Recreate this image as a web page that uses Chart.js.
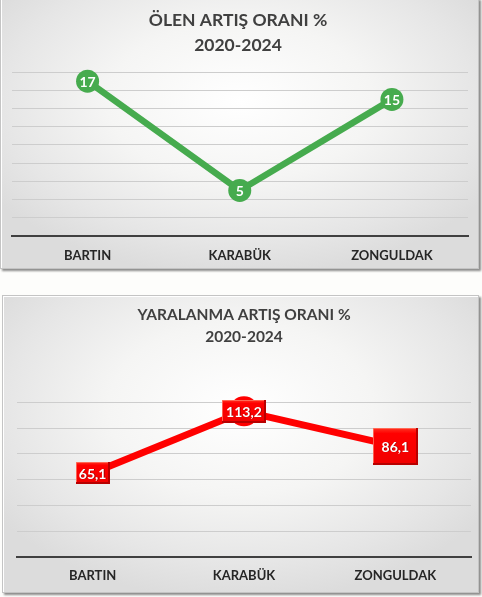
<!DOCTYPE html>
<html>
<head>
<meta charset="utf-8">
<script src="https://cdn.jsdelivr.net/npm/chart.js@4.4.1/dist/chart.umd.min.js"></script>
<style>
  html, body { margin: 0; padding: 0; background: #fdfdfb; }
  body { width: 482px; height: 597px; position: relative; overflow: hidden; }
  .panel {
    position: absolute;
    box-sizing: border-box;
    background: radial-gradient(ellipse 62% 65% at 50% 38%, #ffffff 0%, #f5f5f4 45%, #e6e6e6 80%, #dcdcdc 100%);
    border: 1px solid #c4c4c4;
    box-shadow: 2px 2px 2px rgba(0,0,0,0.45), inset 1px 1px 0 #ffffff;
  }
  #p1 { left: 0px; top: -2px; width: 479px; height: 271px; }
  #p2 { left: 2px; top: 295px; width: 477px; height: 298px; }
  canvas { position: absolute; left: 0; top: 0; }
</style>
</head>
<body>
<div class="panel" id="p1"></div>
<div class="panel" id="p2"></div>
<div id="w1" style="position:absolute;left:0;top:0;width:480px;height:276px;"><canvas id="c1"></canvas></div>
<div id="w2" style="position:absolute;left:0;top:295px;width:482px;height:302px;"><canvas id="c2"></canvas></div>
<script>
// ---- data ----
const categories = ['BARTIN', 'KARABÜK', 'ZONGULDAK'];
const olenArtisOrani = [17, 5, 15];
const yaralanmaArtisOrani = [65.1, 113.2, 86.1];
const olenTitle = ['ÖLEN ARTIŞ ORANI %', '2020-2024'];
const yaralanmaTitle = ['YARALANMA ARTIŞ ORANI %', '2020-2024'];
const olenTicks = { min: 0, max: 18, step: 2 };
const yaralanmaTicks = { min: 0, max: 120, step: 20 };

const FONT = 'Lato, "Open Sans", sans-serif';
function fmt(v) { return String(v).replace('.', ','); }

const valueLabelPlugin = {
  id: 'valueLabels',
  afterDatasetsDraw(chart, args, opts) {
    const ctx = chart.ctx;
    const meta = chart.getDatasetMeta(0);
    const data = chart.data.datasets[0].data;
    ctx.save();
    meta.data.forEach((pt, i) => {
      const x = pt.x, y = pt.y;
      const txt = fmt(data[i]);
      if (opts.box) {
        const [w, h] = opts.boxSizes[i];
        const l = Math.round(x - w / 2), t = Math.round(y - h / 2);
        const g = ctx.createLinearGradient(0, t, 0, t + h);
        g.addColorStop(0, '#ff3322');
        g.addColorStop(0.15, '#ff0000');
        g.addColorStop(1, '#f00000');
        ctx.fillStyle = g;
        ctx.fillRect(l, t, w, h);
        ctx.fillStyle = '#b80000';
        ctx.fillRect(l + w - 2, t, 2, h);
        ctx.fillRect(l, t + h - 2, w, 2);
        ctx.fillStyle = 'rgba(255,120,100,0.8)';
        ctx.fillRect(l, t, w - 2, 1);
        ctx.fillRect(l, t, 1, h - 2);
      }
      ctx.font = 'bold ' + opts.fontSize + 'px ' + FONT;
      ctx.textAlign = 'center';
      ctx.textBaseline = 'middle';
      ctx.fillStyle = 'rgba(90,0,0,0.55)';
      if (opts.box) ctx.fillText(txt, x + 1, y + 1.5);
      ctx.fillStyle = '#ffffff';
      ctx.fillText(txt, x, y + 1);
    });
    ctx.restore();
  }
};

function makeChart(canvasId, title, values, tk, cfg) {
  return new Chart(document.getElementById(canvasId), {
    type: 'line',
    data: {
      labels: categories,
      datasets: [{
        data: values,
        borderColor: cfg.color,
        backgroundColor: cfg.color,
        borderWidth: cfg.lineWidth,
        pointStyle: cfg.pointStyle,
        pointRadius: cfg.pointRadius,
        pointHoverRadius: cfg.pointRadius,
        pointBorderWidth: 0,
        pointBackgroundColor: cfg.color,
        tension: 0,
        clip: false
      }]
    },
    plugins: [valueLabelPlugin],
    options: {
      responsive: true,
      maintainAspectRatio: false,
      animation: false,
      events: [],
      layout: { padding: cfg.layoutPadding },
      plugins: {
        legend: { display: false },
        tooltip: { enabled: false },
        title: {
          display: true,
          text: title,
          color: '#404040',
          font: { family: FONT, size: cfg.titleSize, weight: 'bold', lineHeight: cfg.titleLineHeight },
          padding: cfg.titlePadding
        },
        valueLabels: cfg.labels
      },
      scales: {
        x: {
          offset: true,
          grid: { display: false, drawTicks: false },
          border: { display: true, color: '#404040', width: 2 },
          ticks: {
            color: '#262626',
            padding: cfg.tickPadding,
            maxRotation: 0,
            font: { family: FONT, size: 13, weight: 'bold', lineHeight: 1.2 }
          }
        },
        y: {
          min: tk.min, max: tk.max,
          ticks: { display: false, stepSize: tk.step },
          grid: {
            drawTicks: false,
            color: (c) => c.tick && c.tick.value === tk.min ? 'rgba(0,0,0,0)' : '#cdcdcd',
            lineWidth: 1
          },
          border: { display: false }
        }
      }
    }
  });
}

makeChart('c1', olenTitle, olenArtisOrani, olenTicks, {
  color: '#46ab4e',
  lineWidth: 6.5,
  pointStyle: 'circle',
  pointRadius: 11.5,
  layoutPadding: { left: 8, right: 12, top: 0, bottom: 0.4 },
  titleSize: 17.5,
  titleLineHeight: 1.43,
  titlePadding: { top: 8, bottom: 14 },
  tickPadding: 12,
  labels: { box: false, fontSize: 14 }
});

makeChart('c2', yaralanmaTitle, yaralanmaArtisOrani, yaralanmaTicks, {
  color: '#ff0000',
  lineWidth: 7,
  pointStyle: ['rect', 'circle', 'rect'],
  pointRadius: [6, 15, 6],
  layoutPadding: { left: 17, right: 11, top: 0, bottom: 1.7 },
  titleSize: 15.5,
  titleLineHeight: 1.4,
  titlePadding: { top: 9, bottom: 55.2 },
  tickPadding: 11.5,
  labels: { box: true, fontSize: 14, boxSizes: [[34, 22], [44, 23], [45, 37]] }
});
</script>
</body>
</html>
